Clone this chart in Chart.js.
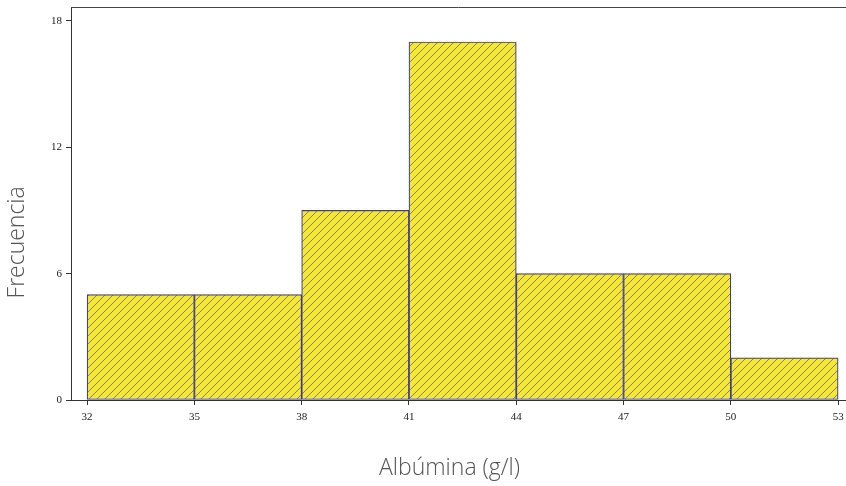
<!DOCTYPE html>
<html lang="es">
<head>
  <meta charset="UTF-8"/>
  <title>Histograma - Albúmina</title>
  <script src="https://cdn.jsdelivr.net/npm/chart.js"></script>
  <style>
    html, body { margin: 0; padding: 0; background: #fff; }
    #wrap { width: 846px; height: 486px; position: relative; }
  </style>
</head>
<body>
  <div id="wrap"><canvas id="histChart" width="846" height="486"></canvas></div>
  <script>
    // bin edges and counts
    const binEdges = [32, 35, 38, 41, 44, 47, 50, 53];
    const counts = [5, 5, 9, 17, 6, 6, 2];
    const yTicks = [0, 6, 12, 18];

    const binCenters = counts.map((c, i) => (binEdges[i] + binEdges[i + 1]) / 2);

    // diagonal hatch on yellow
    function hatch() {
      const s = 8;
      const c = document.createElement('canvas');
      c.width = s; c.height = s;
      const g = c.getContext('2d');
      g.fillStyle = '#f8e82a';
      g.fillRect(0, 0, s, s);
      g.strokeStyle = '#7a7cae';
      g.lineWidth = 1;
      g.beginPath();
      g.moveTo(-1, s + 1); g.lineTo(s + 1, -1);
      g.moveTo(-1, 1); g.lineTo(1, -1);
      g.moveTo(s - 1, s + 1); g.lineTo(s + 1, s - 1);
      g.stroke();
      return document.getElementById('histChart').getContext('2d').createPattern(c, 'repeat');
    }

    const topFrame = {
      id: 'topFrame',
      afterDraw(chart) {
        const { ctx, chartArea } = chart;
        ctx.save();
        ctx.strokeStyle = '#444';
        ctx.lineWidth = 1;
        ctx.beginPath();
        ctx.moveTo(chartArea.left, chartArea.top + 0.5);
        ctx.lineTo(chart.width, chartArea.top + 0.5);
        ctx.stroke();
        ctx.restore();
      }
    };

    const tickFont = { family: 'Liberation Serif', size: 11 };
    const titleFont = { family: 'Open Sans', size: 23, weight: '300' };
    const nb = n => '\u00a0'.repeat(n);

    new Chart(document.getElementById('histChart'), {
      type: 'bar',
      data: {
        datasets: [{
          data: binCenters.map((x, i) => ({ x: x, y: counts[i] })),
          backgroundColor: hatch(),
          borderColor: '#3c3ca0',
          borderWidth: 1.2,
          borderSkipped: false,
          barPercentage: 1,
          categoryPercentage: 1
        }]
      },
      options: {
        responsive: false,
        animation: false,
        layout: { padding: { top: 7, right: 0, left: 0, bottom: 0 } },
        plugins: { legend: { display: false }, tooltip: { enabled: false } },
        scales: {
          x: {
            type: 'linear',
            offset: false,
            min: 31.55,
            max: 53.22,
            afterBuildTicks: s => { s.ticks = binEdges.map(v => ({ value: v })); },
            afterFit: s => { s.height = 86; s.paddingLeft = 0; s.paddingRight = 0; },
            grid: { offset: false, drawOnChartArea: false, drawTicks: true, tickLength: 5, color: '#333' },
            border: { display: true, color: '#333', width: 1 },
            ticks: { color: '#222', font: tickFont, padding: 6, maxRotation: 0 },
            title: {
              display: true, text: 'Albúmina (g/l)' + nb(3), color: '#555',
              font: titleFont, padding: { top: 0, bottom: 4 }
            }
          },
          y: {
            min: 0,
            max: 18.66,
            afterBuildTicks: s => { s.ticks = yTicks.map(v => ({ value: v })); },
            afterFit: s => { s.width = 71; s.paddingTop = 0; s.paddingBottom = 0; },
            grid: { drawOnChartArea: false, drawTicks: true, tickLength: 5, color: '#333' },
            border: { display: true, color: '#333', width: 1 },
            ticks: { color: '#222', font: tickFont, padding: 4 },
            title: {
              display: true, text: 'Frecuencia' + nb(13), color: '#555',
              font: titleFont, padding: { top: 4, bottom: 0 }
            }
          }
        }
      },
      plugins: [topFrame]
    });
  </script>
</body>
</html>
